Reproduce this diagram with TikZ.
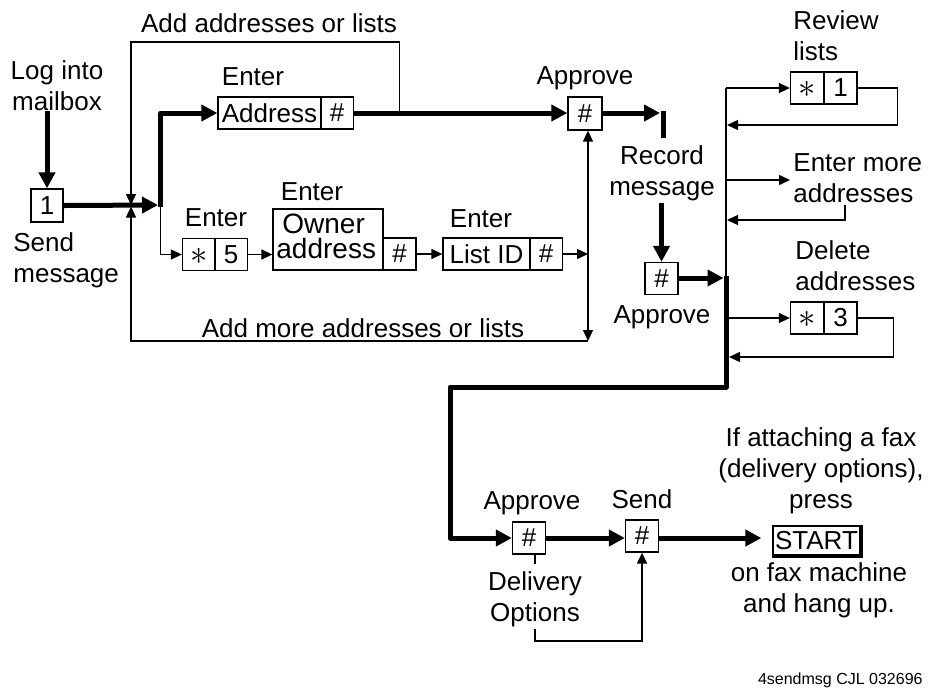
\documentclass[tikz,border=0pt]{standalone}
\usepackage{fontspec}
\setmainfont{Liberation Sans}
\usetikzlibrary{arrows.meta}

% asterisk key face, centred on the key without growing its box
\newcommand{\keystar}{{\fontsize{19}{19}\selectfont\smash{\lower0.25em\hbox{$\ast$}}}}

\tikzset{
  every node/.style={inner sep=0pt, font=\fontsize{13}{15.5}\selectfont},
  key/.style={draw, line width=0.65pt, minimum width=16.5pt, minimum height=16pt},
  lbl/.style={align=center},
  heavy/.style={line width=2.5pt, line join=round},
  light/.style={line width=0.7pt},
  bigtip/.style={-{Triangle[length=8pt,width=8pt]}},
  smalltip/.style={-{Triangle[length=5.5pt,width=5pt]}},
}

\begin{document}
\begin{tikzpicture}[x=0.5pt,y=-0.5pt]
\useasboundingbox (0,0) rectangle (930,687);

% ---- keys ----
\node[key, minimum width=16pt, minimum height=16.5pt] (k1) at (47,205.5) {1};
\node[key, minimum width=51.5pt] (addr) at (269.5,113) {Address};
\node[key] (addrh) at (337,113) {\#};
\node[key, minimum width=17pt, minimum height=16.5pt] (ap1) at (585,113.5) {\#};
\node[key] (s5a) at (199,254.5) {\keystar};
\node[key] (s5b) at (231,254.5) {5};
\node[key, minimum width=55pt, minimum height=30.5pt] (own) at (328,239.5) {};
\node[align=left, anchor=north west, font=\fontsize{14}{12.5}\selectfont]
      (ownt) at (276,214) {\hspace*{3pt}Owner\\address};
\node[key] (ownh) at (399.5,254) {\#};
\node[key, minimum width=43.5pt] (lid) at (486.5,254) {List ID};
\node[key] (lidh) at (546,254) {\#};
\node[key] (rech) at (661.5,278.5) {\#};
\node[key] (s1a) at (807,88) {\keystar};
\node[key] (s1b) at (840.5,88) {1};
\node[key] (s3a) at (807,318) {\keystar};
\node[key] (s3b) at (840.5,318) {3};
\node[key] (abk) at (529,538) {\#};
\node[key] (sendk) at (642,536) {\#};
\node[key, minimum width=43.5pt, minimum height=14.5pt] (start) at (816.5,540.5) {START};
\draw[line width=1.2pt] ([xshift=0.6pt]start.north east) -- ([xshift=0.6pt,yshift=-0.6pt]start.south east)
      -- ([yshift=-0.6pt]start.south west);

% ---- labels ----
\node[anchor=base] (tadd) at (269,32) {Add addresses or lists};
\node[lbl] (login) at (57,86) {Log into\\mailbox};
\node[lbl, align=left, anchor=west] (sendmsg) at (13,260) {Send\\message};
\node[anchor=base] (e1) at (253,85) {Enter};
\node[anchor=base] (apl1) at (585,84) {Approve};
\node[anchor=base] (e2) at (216,226) {Enter};
\node[anchor=base] (e3) at (312,200) {Enter};
\node[anchor=base] (e4) at (481,227) {Enter};
\node[anchor=base] (tmore) at (363,337) {Add more addresses or lists};
\node[lbl] (rec) at (662,173) {Record\\message};
\node[anchor=base] (apl2) at (662,323) {Approve};
\node[lbl, align=left, anchor=west] (rvw) at (793,36) {Review\\lists};
\node[lbl, align=left, anchor=west] (emore) at (793,178) {Enter more\\addresses};
\node[lbl, align=left, anchor=west] (del) at (795,266) {Delete\\addresses};
\node[anchor=base] (apl3) at (532,509) {Approve};
\node[anchor=base] (sendl) at (642,508) {Send};
\node[lbl] (fax) at (821,471) {If attaching a fax\\(delivery options),\\press};
\node[lbl] (onfax) at (819,590) {on fax machine\\and hang up.};
\node[lbl] (dlv) at (535,599) {Delivery\\Options};
\node[anchor=base east, font=\fontsize{8}{9.6}\selectfont] (foot) at (923,684) {4sendmsg CJL 032696};

% ---- junction points ----
\coordinate (jn) at (158,205);
\coordinate (split) at (160.5,205);
\coordinate (jx) at (131,205);
\coordinate (jxb) at (131,206.5);
\coordinate (loopT) at (399.5,113);
\coordinate (rj) at (588,254);
\coordinate (rb) at (588,341);
\coordinate (recin) at (660,113);
\coordinate (barT) at (663,111);
\coordinate (barB) at (663,138);
\coordinate (busin) at (723.5,278);
\coordinate (busT) at (726,88);
\coordinate (busM) at (726,276);
\coordinate (busB) at (726,387);
\coordinate (bl) at (450,387);
\coordinate (bus1) at (727,125);
\coordinate (bus2) at (726,180);
\coordinate (emin) at (790,180);
\coordinate (emout) at (845,205);
\coordinate (bus3) at (727,220);
\coordinate (bus4) at (728,318);
\coordinate (bus5) at (729,357);

% ---- address entry part ----
\draw[heavy,bigtip] (login.south -| k1) -- (k1.north);
\draw[heavy,bigtip] (k1.east) -- (jn);
\draw[heavy,bigtip] ([yshift=-1pt]split) |- (addr.west);
\draw[light,smalltip] (split) |- (s5a.west);
\draw[light,smalltip] (loopT) -- ++(0,-71) -| (jx);
\draw[light,smalltip] (rb) -| (jxb);
\draw[heavy,bigtip] (addrh.east) -- (ap1.west |- addrh);
\draw[light,smalltip] (s5b.east) -- (s5b.east -| own.west);
\draw[light,smalltip] (ownh.east) -- (lid.west);
\draw[light,smalltip] (lidh.east) -- (rj);
\draw[light,smalltip] (rj) -- (rj |- ap1.south);
\draw[light,smalltip] (rj) -- (rb);

% ---- record and approve ----
\draw[heavy,bigtip] (ap1.east |- recin) -- (recin);
\draw[heavy] (barT) -- (barB);
\draw[heavy,bigtip] ([yshift=-1pt]rec.south -| rech.north) -- (rech.north);
\draw[heavy,bigtip] (rech.east |- busin) -- (busin);

% ---- review / edit bus ----
\draw[light] (busT) -- (busB);
\draw[light,smalltip] (busT) -- (s1a.west);
\draw[light,smalltip] (s1b.east) -- ++(40,0) |- (bus1);
\draw[light,smalltip] (bus2) -- (emin);
\draw[light,smalltip] (emout) |- (bus3);
\draw[light,smalltip] (bus4) -- (s3a.west);
\draw[light,smalltip] (s3b.east) -- ++(36,0) |- (bus5);
\draw[heavy,bigtip] (busM) -- (busB) -- (bl) |- (abk.west);

% ---- send ----
\draw[heavy,bigtip] (abk.east) -- (abk.east -| sendk.west);
\draw[heavy,bigtip] (sendk.east |- abk) -- ([xshift=-5.5pt]start.west |- abk);
\draw[light] (abk.south -| dlv) -- ++(0,9);
\draw[light,smalltip] ([yshift=-1pt]dlv.south) -- ++(0,12) -| (sendk.south);
\end{tikzpicture}
\end{document}
